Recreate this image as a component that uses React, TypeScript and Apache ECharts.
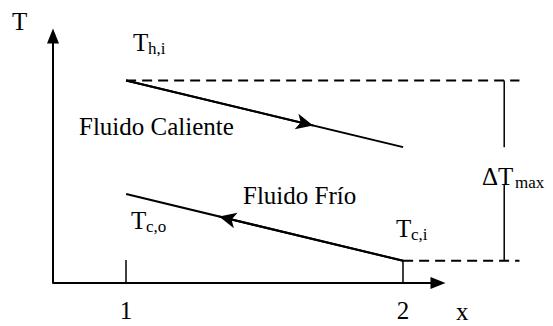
import React, { useEffect, useRef } from "react";
import * as echarts from "echarts";

// Counter-flow heat exchanger: temperature profile along the exchanger
const xTicks = [1, 2];
const xTickLabels = ["1", "2"];
const hotFluid: [number, number][] = [[1, 82], [2, 55]]; // T_h,i -> T_h,o
const coldFluid: [number, number][] = [[2, 9], [1, 36]]; // T_c,i -> T_c,o
const deltaTopSegment: [number, number][] = [[2.365, 82], [2.365, 55]];
const deltaBottomSegment: [number, number][] = [[2.365, 40], [2.365, 9]];
const dashRight = 2.42;
const axisLabels = { x: "x", y: "T" };
const fluidLabels = ["Fluido Caliente", "Fluido Frío"];

const X_MIN = 0.736;
const X_MAX = 2.422;
const X_ARROW_END = 2.126;
const FONT = "Liberation Serif";
const BLACK = "#000";
const MAIN = 25;
const SUB = 17;

function along(seg: [number, number][], t: number): [number, number] {
  const [a, b] = seg;
  return [a[0] + (b[0] - a[0]) * t, a[1] + (b[1] - a[1]) * t];
}

function arrowMark(seg: [number, number][], t: number, symbol = "arrow", size = [12, 17]) {
  return {
    silent: true,
    symbol: ["none", symbol],
    symbolSize: size,
    label: { show: false },
    lineStyle: { color: BLACK, width: 2, type: "solid" },
    emphasis: { disabled: true },
    data: [[{ coord: seg[0] }, { coord: along(seg, t) }]],
  };
}

function txt(text: string, x: number, y: number, size: number) {
  return {
    type: "text",
    x,
    y,
    style: {
      text,
      fontFamily: FONT,
      fontSize: size,
      fill: BLACK,
      align: "left",
      verticalAlign: "middle",
    },
  };
}

export default function App() {
  const ref = useRef<HTMLDivElement>(null);

  useEffect(() => {
    if (!ref.current) return;
    const chart = echarts.init(ref.current, null, { renderer: "svg" });
    const solid = { color: BLACK, width: 2 };
    const dashed = { color: BLACK, width: 2, type: [10, 6] };
    const plain = (name: string, data: any, lineStyle: any, extra: any = {}) => ({
      name,
      type: "line",
      data,
      symbol: "none",
      clip: false,
      silent: true,
      lineStyle,
      ...extra,
    });

    chart.setOption({
      animation: false,
      grid: { left: 53, right: 553 - 520, top: 36, bottom: 326 - 283 },
      xAxis: {
        type: "value",
        min: X_MIN,
        max: X_MAX,
        axisLine: { show: false },
        splitLine: { show: false },
        axisTick: {
          show: true,
          inside: true,
          length: 23,
          customValues: xTicks,
          lineStyle: { color: BLACK, width: 1.5 },
        },
        axisLabel: {
          customValues: xTicks,
          formatter: (v: number) => xTickLabels[xTicks.indexOf(v)] ?? "",
          margin: 15,
          color: BLACK,
          fontSize: MAIN,
          fontFamily: FONT,
        },
      },
      yAxis: {
        type: "value",
        min: 0,
        max: 100,
        splitLine: { show: false },
        axisTick: { show: false },
        axisLabel: { show: false },
        axisLine: {
          show: true,
          symbol: ["none", "triangle"],
          symbolSize: [12, 15],
          lineStyle: { color: BLACK, width: 2 },
        },
      },
      series: [
        plain("Fluido Caliente", hotFluid, solid, { markLine: arrowMark(hotFluid, 0.675) }),
        plain("Fluido Frío", coldFluid, solid, { markLine: arrowMark(coldFluid, 0.664) }),
        plain("Th,i", [hotFluid[0], [dashRight, hotFluid[0][1]]], dashed),
        plain("Tc,i", [coldFluid[0], [dashRight, coldFluid[0][1]]], dashed),
        plain("ΔTmax-a", deltaTopSegment, { color: BLACK, width: 1.5 }),
        plain("ΔTmax-b", deltaBottomSegment, { color: BLACK, width: 1.5 }),
        plain("x-axis", [[X_MIN, 0], [X_ARROW_END - 0.03, 0]], solid, {
          markLine: arrowMark([[X_MIN, 0], [X_ARROW_END, 0]], 1, "triangle", [12, 15]),
        }),
      ],
      graphic: [
        txt(axisLabels.y, 12, 21, MAIN),
        txt(axisLabels.x, 456, 311, MAIN),
        txt("T", 133, 42, MAIN),
        txt("h,i", 148, 48, SUB),
        txt(fluidLabels[0], 79, 126, MAIN),
        txt(fluidLabels[1], 243, 195, MAIN),
        txt("T", 131, 220, MAIN),
        txt("c,o", 146, 226, SUB),
        txt("T", 396, 228, MAIN),
        txt("c,i", 411, 234, SUB),
        txt("ΔT", 482, 176, MAIN),
        txt("max", 515, 182, SUB),
      ],
    });
    return () => chart.dispose();
  }, []);

  return (
    <div
      ref={ref}
      style={{ position: "fixed", left: 0, top: 0, width: 553, height: 326, background: "#fff" }}
    />
  );
}
